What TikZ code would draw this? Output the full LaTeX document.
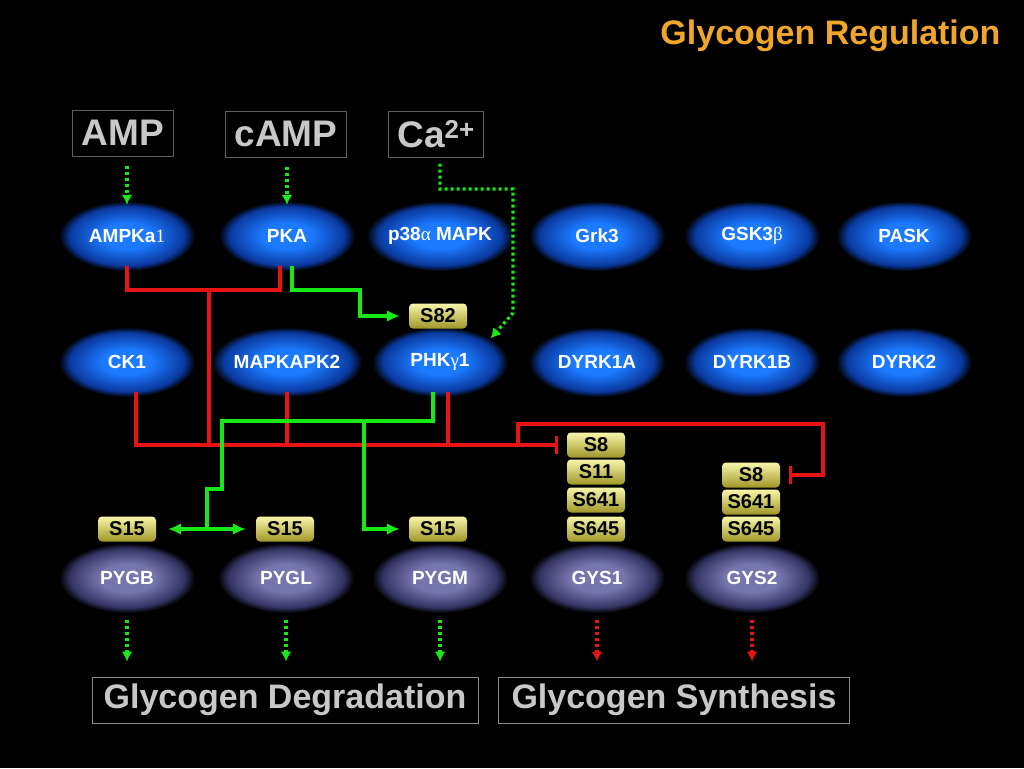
\documentclass[tikz,border=0pt]{standalone}
\usepackage{fontspec}
\setmainfont{Liberation Sans}
\newfontfamily\greekfont{Liberation Serif}
\usepackage{tikz}
\usetikzlibrary{arrows,arrows.meta,shapes.geometric}
\definecolor{kinblue}{RGB}{28,122,255}
\definecolor{kinedge}{RGB}{10,58,160}
\definecolor{subviolet}{RGB}{118,118,175}
\definecolor{subedge}{RGB}{52,52,100}
\definecolor{siteyel}{RGB}{232,228,100}
\definecolor{sitelight}{RGB}{248,246,170}
\definecolor{sitedark}{RGB}{160,150,40}
\definecolor{ttlorange}{RGB}{240,166,42}
\definecolor{txtgrey}{RGB}{200,200,200}
\definecolor{lnmol}{RGB}{95,95,95}
\definecolor{lnout}{RGB}{140,140,140}
\definecolor{actgreen}{RGB}{24,232,24}
\definecolor{inhred}{RGB}{232,20,20}
\pgfdeclareradialshading{kinglow}{\pgfpoint{0bp}{0bp}}{color(0bp)=(kinblue); color(9bp)=(kinblue); color(21bp)=(kinedge); color(25bp)=(black); color(50bp)=(black)}
\pgfdeclareradialshading{subglow}{\pgfpoint{0bp}{0bp}}{color(0bp)=(subviolet); color(10bp)=(subviolet); color(21bp)=(subedge); color(25bp)=(black); color(50bp)=(black)}
\tikzset{
  kin_b/.style = {ellipse, inner sep=0pt, minimum width=136pt, minimum height=70pt,
    shade, shading=kinglow, text=white, font=\bfseries\fontsize{19}{19}\selectfont},% kinase, blue glow
  sub_v/.style = {kin_b, shading=subglow},% substrate, violet glow
  site_y/.style = {rectangle, rounded corners=4pt, inner sep=0pt, minimum width=58pt,
    minimum height=25pt, top color=sitelight, middle color=siteyel, bottom color=sitedark,
    text=black, font=\bfseries\fontsize{20}{20}\selectfont},% phospho site
  mol_box/.style = {rectangle, draw=lnmol, line width=1pt, fill=black, inner xsep=9pt,
    minimum height=46pt, text=txtgrey, font=\bfseries\fontsize{37}{37}\selectfont},% effector
  out_box/.style = {rectangle, draw=lnout, line width=1pt, minimum height=46pt,
    text=txtgrey, font=\bfseries\fontsize{34}{34}\selectfont},% outcome
  act/.style = {draw=actgreen, line width=3.2pt},
  inh/.style = {draw=inhred, line width=3.2pt},
  dot_g/.style = {draw=actgreen, line width=3.2pt, dash pattern=on 3pt off 3pt,
    -{Latex[length=10pt,width=11pt]}},
  dot_r/.style = {dot_g, draw=inhred}
}

\begin{document}
\begin{tikzpicture}[x=1pt,y=-1pt,>={Latex[length=13pt,width=12pt]}]
    \fill[black] (0,0) rectangle (1024,768);
    \useasboundingbox (0,0) rectangle (1024,768);

    \node[anchor=east, text=ttlorange, font=\bfseries\fontsize{34}{34}\selectfont] (title) at (1004,36) {Glycogen Regulation};

    % effectors
    \node[mol_box] (amp) at (123,133) {AMP};
    \node[mol_box] (camp) at (286,134) {cAMP};
    \node[mol_box] (ca) at (436,134) {Ca\textsuperscript{2+}};

    % kinases
    \node[kin_b] (ampk) at (127,236) {AMPKa{\greekfont\mdseries 1}};
    \node[kin_b] (pka) at (287,236) {PKA};
    \node[kin_b] (p38) at (440,236) {p38{\greekfont\mdseries α} MAPK};
    \node[kin_b] (grk3) at (597,236) {Grk3};
    \node[kin_b] (gsk3b) at (752,236) {GSK3{\greekfont\mdseries β}};
    \node[kin_b] (pask) at (904,236) {PASK};
    \node[kin_b] (ck1) at (127,362) {CK1};
    \node[kin_b] (mk2) at (287,362) {MAPKAPK2};
    \node[kin_b] (phkg1) at (440,362) {PHK{\greekfont\mdseries γ}1};
    \node[kin_b] (dyrk1a) at (597,362) {DYRK1A};
    \node[kin_b] (dyrk1b) at (752,362) {DYRK1B};
    \node[kin_b] (dyrk2) at (904,362) {DYRK2};

    % substrates
    \node[sub_v] (pygb) at (127,578) {PYGB};
    \node[sub_v] (pygl) at (286,578) {PYGL};
    \node[sub_v] (pygm) at (440,578) {PYGM};
    \node[sub_v] (gys1) at (597,578) {GYS1};
    \node[sub_v] (gys2) at (752,578) {GYS2};

    % sites
    \node[site_y] (s82) at (438,316) {S82};
    \node[site_y] (s15b) at (127,529) {S15};
    \node[site_y] (s15l) at (285,529) {S15};
    \node[site_y] (s15m) at (438,529) {S15};
    \node[site_y] (g1s8) at (596,445) {S8};
    \node[site_y] (g1s11) at (596,472) {S11};
    \node[site_y] (g1s641) at (596,500) {S641};
    \node[site_y] (g1s645) at (596,529) {S645};
    \node[site_y] (g2s8) at (751,475) {S8};
    \node[site_y] (g2s641) at (751,502) {S641};
    \node[site_y] (g2s645) at (751,529) {S645};

    % outcomes
    \node[out_box, minimum width=386pt] (degr) at (285,700) {Glycogen Degradation};
    \node[out_box, minimum width=351pt] (synth) at (674,700) {Glycogen Synthesis};

    % joints
    \coordinate (redtop) at (209,290);
    \coordinate (busL) at (136,447);
    \coordinate (busR) at (518,447);
    \coordinate (gys2turn) at (823,424);
    \coordinate (pkaturn) at (360,290);
    \coordinate (gbar) at (222,421);
    \coordinate (gstep) at (207,489);
    \coordinate (gbr) at (364,421);
    \coordinate (caturn) at (513,189);
    \coordinate (cadiag) at (513,313);

    % red: inhibition
    \draw[inh] ([yshift=5pt]ampk.south) |- (redtop) -| ([xshift=-7pt,yshift=5pt]pka.south);
    \draw[inh] (redtop) -- (redtop |- busL);
    \draw[inh] ([yshift=5pt]mk2.south) -- (mk2.south |- busL);
    \draw[inh] ([xshift=8pt,yshift=5pt]phkg1.south) -- ([xshift=8pt]phkg1.south |- busL);
    \draw[inh, -{Bar[width=18pt]}] ([xshift=9pt,yshift=5pt]ck1.south) |- ([xshift=-9pt]g1s8.west);
    \draw[inh, -{Bar[width=18pt]}] (busR) |- (gys2turn) |- ([xshift=9pt]g2s8.east);

    % green: activation
    \draw[act, ->] ([xshift=5pt,yshift=5pt]pka.south) |- (pkaturn) |- ([xshift=-9pt]s82.west);
    \draw[act] ([xshift=-7pt,yshift=5pt]phkg1.south) |- (gbar) |- (gstep) -- (gstep |- s15b);
    \draw[act, <->] ([xshift=12pt]s15b.east) -- ([xshift=-10pt]s15l.west);
    \draw[act, ->] (gbr) |- ([xshift=-9pt]s15m.west);

    % dotted
    \draw[dot_g] ([yshift=-9pt]ampk.north |- amp.south) -- ([yshift=-4pt]ampk.north);
    \draw[dot_g] ([yshift=-9pt]pka.north |- camp.south) -- ([yshift=-4pt]pka.north);
    \draw[dot_g] ([xshift=4pt,yshift=-6pt]ca.south) |- (caturn) -- (cadiag) -- (phkg1.25);
    \draw[dot_g] ([yshift=-7pt]pygb.south) -- ([yshift=15pt]pygb.south |- degr.north);
    \draw[dot_g] ([yshift=-7pt]pygl.south) -- ([yshift=15pt]pygl.south |- degr.north);
    \draw[dot_g] ([yshift=-7pt]pygm.south) -- ([yshift=15pt]pygm.south |- degr.north);
    \draw[dot_r] ([yshift=-7pt]gys1.south) -- ([yshift=15pt]gys1.south |- synth.north);
    \draw[dot_r] ([yshift=-7pt]gys2.south) -- ([yshift=15pt]gys2.south |- synth.north);
\end{tikzpicture}
\end{document}
